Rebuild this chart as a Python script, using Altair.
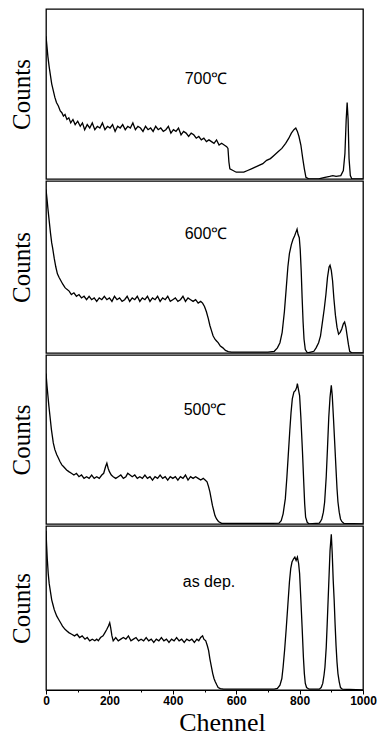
import altair as alt
import pandas as pd

labels = ["700℃", "600℃", "500℃", "as dep."]

ch_700 = [0, 3, 6, 10, 14, 18, 23, 28, 33, 39, 45, 50, 55, 60, 66, 72, 78, 85, 92, 100, 108, 115, 122, 130, 138, 146,
          154, 162, 170, 178, 186, 194, 202, 210, 218, 226, 234, 242, 250, 258, 266, 274, 282, 290, 298, 306, 314, 322,
          330, 338, 346, 354, 362, 370, 378, 386, 394, 402, 410, 418, 426, 434, 442, 450, 458, 466, 474, 482, 490, 498,
          506, 514, 522, 530, 538, 546, 554, 562, 570, 574, 577, 580, 590, 600, 612, 624, 636, 648, 660, 672, 684, 696,
          708, 720, 732, 744, 756, 766, 774, 782, 788, 793, 798, 804, 810, 815, 820, 830, 860, 880, 895, 905, 915, 930,
          938, 943, 947, 950, 953, 956, 960, 965, 1000]
val_700 = [84, 78, 72, 66, 61, 56, 52, 48, 45, 43, 40, 39, 37, 38, 35, 36, 33, 35, 32, 34, 31, 33, 29, 32, 30, 33,
           29, 31, 30, 33, 29, 31, 30, 32, 28, 31, 30, 32, 29, 31, 30, 33, 29, 31, 30, 28, 31, 29,
           30, 28, 31, 29, 30, 28, 29, 31, 27, 29, 28, 30, 26, 28, 27, 25, 27, 26, 24, 25, 23, 24,
           22, 23, 22, 21, 23, 20, 21, 20, 19, 18, 10, 6, 5, 4, 4, 4, 5, 6, 7, 8, 9, 11,
           12, 14, 16, 18, 21, 24, 27, 29, 30, 28, 25, 20, 12, 6, 1, 0, 0, 1, 1.5, 2, 1.5, 2,
           5, 15, 35, 45, 35, 12, 2, 0, 0]

ch_600 = [0, 3, 6, 10, 14, 18, 21, 26, 31, 36, 41, 47, 53, 60, 66, 73, 80, 88, 96, 104, 112, 120, 128, 136, 144, 152,
          160, 168, 176, 184, 192, 200, 208, 216, 224, 232, 240, 248, 256, 264, 272, 280, 288, 296, 304, 312, 320, 328,
          336, 344, 352, 360, 368, 376, 384, 392, 400, 408, 416, 424, 432, 440, 448, 456, 464, 472, 480, 488, 494, 500,
          506, 512, 517, 522, 527, 533, 538, 543, 550, 558, 566, 575, 585, 700, 720, 730, 738, 745, 752, 758, 763, 768,
          774, 779, 784, 788, 792, 795, 799, 802, 805, 808, 811, 814, 818, 825, 845, 852, 860, 866, 872, 878, 883, 888,
          893, 896, 900, 904, 908, 913, 918, 923, 928, 933, 938, 942, 946, 950, 954, 958, 965, 1000]
val_600 = [95, 90, 84, 77, 70, 64, 61, 55, 50, 46, 44, 42, 40, 38, 37, 36, 34, 35, 33, 34, 32, 33, 31, 33, 31, 32,
           30, 32, 31, 33, 31, 32, 30, 33, 31, 32, 30, 31, 33, 30, 32, 31, 33, 30, 32, 31, 33, 30,
           32, 31, 33, 30, 32, 31, 33, 30, 31, 32, 30, 31, 33, 30, 32, 31, 30, 31, 29, 30, 29, 27,
           24, 20, 16, 13, 10, 8, 7, 6, 4, 3, 1.5, 0.8, 0.5, 0.5, 1, 3, 6, 12, 24, 38, 50, 58,
           63, 66, 68, 70, 72, 69, 67, 60, 48, 32, 18, 8, 2, 0, 1, 3, 6, 10, 18, 26, 34, 44,
           50, 51, 48, 42, 32, 22, 15, 11, 12, 14, 17, 18, 15, 10, 5, 1, 0, 0]

ch_500 = [0, 3, 6, 9, 13, 17, 20, 23, 28, 34, 39, 44, 50, 55, 60, 65, 72, 80, 88, 96, 104, 112, 120, 128, 136, 144,
          152, 160, 168, 176, 182, 188, 192, 196, 200, 206, 212, 220, 228, 236, 244, 252, 258, 265, 272, 280, 288, 296,
          304, 312, 320, 328, 336, 344, 352, 360, 368, 376, 384, 392, 400, 408, 416, 424, 432, 440, 448, 456, 464, 472,
          480, 488, 496, 502, 508, 513, 517, 521, 525, 529, 533, 538, 544, 554, 700, 735, 742, 748, 755, 760, 764, 769,
          773, 777, 782, 787, 791, 793, 796, 800, 804, 809, 813, 816, 819, 824, 830, 862, 866, 870, 875, 879, 884, 888,
          892, 896, 900, 903, 907, 911, 915, 918, 921, 925, 929, 933, 940, 1000]
val_500 = [89, 82, 76, 70, 63, 56, 52, 48, 44, 41, 39, 37, 35, 34, 33, 32, 31, 30, 29, 30, 28, 29, 27, 28, 27, 29,
           27, 28, 27, 29, 30, 34, 36, 33, 31, 29, 28, 27, 28, 29, 27, 28, 30, 29, 28, 29, 27, 28,
           27, 29, 27, 28, 26, 28, 27, 29, 27, 28, 26, 28, 27, 28, 26, 28, 27, 29, 26, 28, 27, 28,
           27, 26, 27, 26, 25, 22, 19, 15, 11, 8, 5, 3, 1.5, 0.4, 0.3, 0.5, 2, 6, 15, 28, 40, 55,
           66, 74, 78, 79, 81, 83, 80, 76, 63, 43, 25, 12, 4, 1, 0, 0.5, 1.5, 3, 7, 13, 28, 45,
           63, 75, 82, 76, 62, 47, 32, 21, 13, 7, 3, 1.5, 0.3, 0]

ch_dep = [0, 2, 4, 7, 10, 14, 18, 22, 26, 30, 34, 40, 46, 52, 60, 66, 72, 81, 90, 98, 106, 114, 123, 130, 138, 146,
          154, 160, 165, 172, 180, 186, 192, 197, 201, 204, 208, 212, 220, 228, 236, 244, 252, 260, 268, 276, 284, 292,
          300, 308, 316, 324, 332, 340, 348, 356, 364, 372, 380, 388, 396, 404, 412, 420, 428, 436, 444, 452, 460, 468,
          476, 482, 488, 494, 498, 504, 509, 513, 517, 522, 526, 530, 534, 539, 543, 550, 560, 720, 730, 738, 744, 748,
          753, 758, 763, 768, 772, 776, 781, 785, 789, 793, 797, 800, 804, 808, 812, 815, 818, 822, 830, 862, 868, 873,
          877, 880, 884, 887, 890, 893, 896, 900, 903, 906, 909, 912, 915, 918, 921, 925, 929, 935, 1000]
val_dep = [97, 88, 80, 71, 65, 60, 55, 52, 49, 47, 45, 43, 41, 39, 37, 36, 35, 34, 33, 34, 32, 33, 31, 32, 30, 31,
           30, 31, 30, 32, 33, 35, 37, 39, 41, 38, 33, 30, 32, 30, 31, 32, 31, 33, 30, 31, 32, 30,
           31, 30, 32, 30, 31, 29, 31, 30, 32, 30, 31, 29, 31, 30, 32, 30, 31, 29, 31, 30, 31, 29,
           31, 30, 32, 33, 31, 30, 27, 24, 19, 14, 10, 7, 5, 3, 1.5, 0.8, 0.5, 0.5, 1, 3, 7, 14,
           25, 38, 52, 66, 74, 78, 80, 81, 79, 81, 77, 71, 55, 38, 20, 10, 4, 1.5, 0.5, 0.5, 1.5, 4,
           9, 14, 26, 40, 55, 70, 85, 95, 83, 67, 55, 40, 27, 17, 10, 5, 1.5, 0.5, 0]

tick_values = [0, 100, 200, 300, 400, 500, 600, 700, 800, 900, 1000]

series = [(ch_700, val_700), (ch_600, val_600), (ch_500, val_500), (ch_dep, val_dep)]
heights = [170, 172, 169, 164]
label_pos = [(160, 70), (160, 53), (159, 55), (163, 56)]

panels = []
for i, ((chs, vals), lab) in enumerate(zip(series, labels)):
    df = pd.DataFrame({"ch": chs, "val": vals})
    last = i == len(series) - 1
    if last:
        xaxis = alt.Axis(
            values=tick_values,
            title="Chennel",
            format="d",
            labelExpr="datum.value % 200 == 0 ? datum.label : ''",
            tickSize={"condition": {"test": "datum.value % 200 == 0", "value": 4}, "value": 2},
            grid=False,
            labelFont="Liberation Sans",
            labelFontWeight="bold",
            labelFontSize=12,
            labelPadding=1,
            labelFlush=False,
            tickColor="black",
            domainColor="black",
            labelColor="black",
            titleFont="Liberation Serif",
            titleFontSize=26,
            titleFontWeight="normal",
            titleColor="black",
            titlePadding=3,
            titleX=176,
        )
    else:
        xaxis = None
    x = alt.X("ch:Q", scale=alt.Scale(domain=[0, 1000], nice=False), axis=xaxis)
    y = alt.Y("val:Q", scale=alt.Scale(domain=[0, 100], nice=False),
              axis=alt.Axis(title="Counts", labels=False, ticks=False, domain=False, grid=False,
                            titleFont="Liberation Serif", titleFontSize=25, titleFontWeight="normal",
                            titleColor="black", titlePadding=12))
    line = alt.Chart(df).mark_line(color="black", strokeWidth=1.3, clip=True).encode(x=x, y=y)
    tdf = pd.DataFrame({"t": [lab]})
    text = alt.Chart(tdf).mark_text(font="Liberation Sans", fontSize=16, color="black",
                                    align="center", baseline="middle").encode(
        text="t:N", x=alt.value(label_pos[i][0]), y=alt.value(label_pos[i][1]))
    panels.append(alt.layer(line, text).properties(width=317, height=heights[i]))

chart = alt.vconcat(*panels, spacing=0).properties(
    padding=0, background="white"
).configure_view(
    stroke="black", strokeWidth=1.3
)

chart.save("out.html", embed_options={"renderer": "svg", "actions": False})
